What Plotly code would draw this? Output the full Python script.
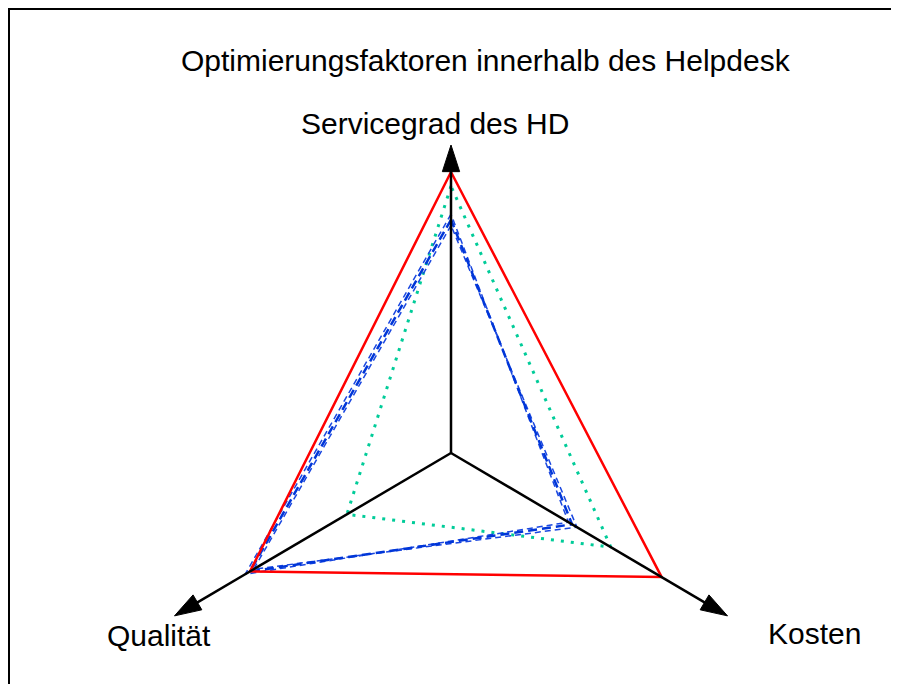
import math
import plotly.graph_objects as go

# ---- data ----
axis_labels = ["Servicegrad des HD", "Qualität", "Kosten"]
title_text = "Optimierungsfaktoren innerhalb des Helpdesk"
red_values = [100, 83, 87]
green_values = [95, 43, 66]
blue1_values = [83, 83, 50]
blue2_values = [81, 81.5, 52]
blue3_values = [85, 85, 48.5]

# ---- layout constants ----
W, H = 899, 684
OFF = 8                    # page offset of the plot div
CX, CY = 451 - OFF, 453 - OFF   # centre in figure pixels
U = 2.81                   # pixels per unit
ANGLES = [90, 210.5, 329.5]
AXIS_LEN = [109.6, 114.2, 114.2]


def xy(vals):
    xs, ys = [], []
    for v, a in zip(vals, ANGLES):
        xs.append(v * math.cos(math.radians(a)))
        ys.append(v * math.sin(math.radians(a)))
    xs.append(xs[0]); ys.append(ys[0])
    return xs, ys


fig = go.Figure()


def add_series(vals, color, width, dash):
    xs, ys = xy(vals)
    fig.add_trace(go.Scatter(x=xs, y=ys, mode="lines",
                             line=dict(color=color, width=width, dash=dash),
                             hoverinfo="skip", showlegend=False))


add_series(green_values, "#00CC99", 3, "3px,7px")
add_series(blue2_values, "#1A47E0", 1.5, "6px,4px")
add_series(blue3_values, "#1A47E0", 1.5, "6px,4px")
add_series(blue1_values, "#0036D8", 2.5, "9px,5px")
add_series(red_values, "#FF0000", 2.5, "solid")

# axes with arrows
for L, a in zip(AXIS_LEN, ANGLES):
    tx = L * math.cos(math.radians(a))
    ty = L * math.sin(math.radians(a))
    fig.add_trace(go.Scatter(
        x=[0, tx * 0.97, tx], y=[0, ty * 0.97, ty], mode="lines+markers",
        line=dict(color="black", width=2.5),
        marker=dict(symbol="arrow", size=[0, 0, 28], angleref="previous",
                    color="black", opacity=1, line=dict(width=1, color="black")),
        hoverinfo="skip", showlegend=False))


def px(x):
    return (x - OFF) / W


def py(y):
    return 1 - (y - OFF) / H


FONT = dict(family="Liberation Sans, Arial, sans-serif", size=30, color="black")
fig.add_annotation(x=px(485.5), y=py(60.5), xref="paper", yref="paper",
                   text=title_text, showarrow=False, font=FONT,
                   xanchor="center", yanchor="middle")
label_pos = [(435, 123), (158.5, 635), (814.5, 633)]
for t, (lx, ly) in zip(axis_labels, label_pos):
    fig.add_annotation(x=px(lx), y=py(ly), xref="paper", yref="paper",
                       text=t, showarrow=False, font=FONT,
                       xanchor="center", yanchor="middle")

# frame (sits at the very top-left edge)
fig.add_shape(type="rect", xref="paper", yref="paper",
              x0=1 / W, x1=1.05, y0=-0.05, y1=1 - 1 / H,
              line=dict(color="black", width=2))

fig.update_layout(
    width=W, height=H,
    margin=dict(l=0, r=0, t=0, b=0),
    paper_bgcolor="white", plot_bgcolor="white",
    xaxis=dict(range=[-CX / U, (W - CX) / U], visible=False, fixedrange=True),
    yaxis=dict(range=[-(H - CY) / U, CY / U], visible=False, fixedrange=True),
    showlegend=False,
)

fig.write_html("out.html")
